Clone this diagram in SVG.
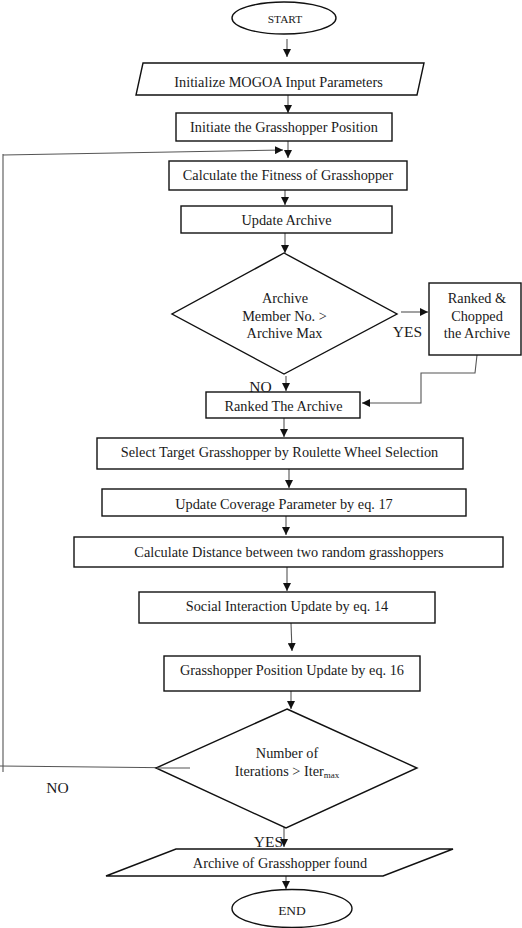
<svg xmlns="http://www.w3.org/2000/svg" width="522" height="928" viewBox="0 0 522 928">
<defs>
<style>
.n{fill:#fff;stroke:#111;stroke-width:1.4}
.t{font-family:"Liberation Serif","Times New Roman",serif;font-size:14.3px;fill:#1a1a1a;text-anchor:middle}
.c{fill:none;stroke:#555;stroke-width:1.1}
.a{marker-end:url(#ah)}
</style>
<marker id="ah" viewBox="0 0 10 10" refX="10" refY="5" markerWidth="8" markerHeight="8" markerUnits="userSpaceOnUse" orient="auto"><path d="M0,0 L10,5 L0,10 z" fill="#111"/></marker>
</defs>
<rect width="522" height="928" fill="#fff"/>
<g id="connectors">
<line class="c a" x1="287" y1="39" x2="287" y2="57"/>
<line class="c a" x1="288" y1="95" x2="288" y2="113"/>
<line class="c a" x1="288" y1="141" x2="288" y2="158"/>
<line class="c" x1="190" y1="768" x2="0" y2="766"/>
<line class="c" x1="3" y1="772" x2="3" y2="154"/>
<line class="c a" x1="3" y1="155" x2="283" y2="150"/>
<line class="c a" x1="285" y1="190" x2="285" y2="205"/>
<line class="c a" x1="285" y1="233" x2="285" y2="253"/>
<line class="c a" x1="284" y1="350" x2="284" y2="367"/>
<line class="c a" x1="286" y1="376" x2="286" y2="391"/>
<line class="c a" x1="401" y1="312" x2="428" y2="312"/>
<path class="c a" d="M477,355 L475,373 L421,373 L421,403 L362,403"/>
<line class="c a" x1="284" y1="418" x2="284" y2="437"/>
<line class="c a" x1="289" y1="469" x2="289" y2="488"/>
<line class="c a" x1="286" y1="516" x2="286" y2="535"/>
<line class="c a" x1="287" y1="567" x2="287" y2="591"/>
<line class="c a" x1="291" y1="623" x2="292" y2="651"/>
<line class="c a" x1="291" y1="691" x2="291" y2="709"/>
<line class="c a" x1="284" y1="823" x2="284" y2="847"/>
<line class="c a" x1="286" y1="876" x2="286" y2="889"/>
</g>
<g id="start">
<ellipse class="n" cx="284" cy="18" rx="52" ry="16"/>
<text class="t" x="285" y="23" style="font-size:11.4px">START</text>
</g>
<g id="init-params">
<polygon class="n" points="143,63 424,63 417,95 136,95"/>
<text class="t" x="278.5" y="87">Initialize MOGOA Input Parameters</text>
</g>
<g id="init-position">
<rect class="n" x="176" y="113" width="216" height="28"/>
<text class="t" x="284" y="132">Initiate the Grasshopper Position</text>
</g>
<g id="fitness">
<rect class="n" x="169" y="161" width="238" height="29"/>
<text class="t" x="288" y="180">Calculate the Fitness of Grasshopper</text>
</g>
<g id="update-archive">
<rect class="n" x="181" y="206" width="211" height="27"/>
<text class="t" x="286.5" y="225">Update Archive</text>
</g>
<g id="archive-check">
<polygon class="n" points="284,253 397,314 284,374 172,314"/>
<text class="t" x="285" y="303">Archive</text>
<text class="t" x="284.5" y="321">Member No. &gt;</text>
<text class="t" x="284.5" y="338">Archive Max</text>
</g>
<g id="chop">
<rect class="n" x="429" y="283" width="92" height="72"/>
<text class="t" x="477" y="303">Ranked &amp;</text>
<text class="t" x="477" y="321">Chopped</text>
<text class="t" x="477" y="338">the Archive</text>
</g>
<g id="labels1">
<text class="t" x="407.5" y="337" style="font-size:15.5px">YES</text>
<text class="t" x="260.5" y="392" style="font-size:15.5px">NO</text>
</g>
<g id="ranked">
<rect class="n" x="206" y="392" width="154" height="26"/>
<text class="t" x="283.5" y="411">Ranked The Archive</text>
</g>
<g id="select">
<rect class="n" x="97" y="438" width="366" height="31"/>
<text class="t" x="279.5" y="457">Select Target Grasshopper by Roulette Wheel Selection</text>
</g>
<g id="coverage">
<rect class="n" x="102" y="489" width="364" height="27"/>
<text class="t" x="284" y="509">Update Coverage Parameter by eq. 17</text>
</g>
<g id="distance">
<rect class="n" x="74" y="537" width="429" height="30"/>
<text class="t" x="289" y="557">Calculate Distance between two random grasshoppers</text>
</g>
<g id="social">
<rect class="n" x="139" y="592" width="296" height="31"/>
<text class="t" x="287" y="611">Social Interaction Update by eq. 14</text>
</g>
<g id="position-update">
<rect class="n" x="164" y="656" width="256" height="35"/>
<text class="t" x="292" y="675">Grasshopper Position Update by eq. 16</text>
</g>
<g id="iter-check">
<polygon class="n" points="287,709 417,768 286,828 156,768"/>
<text class="t" x="287" y="758">Number of</text>
<text class="t" x="287" y="776">Iterations &gt; Iter<tspan style="font-size:9px" dy="2">max</tspan></text>
</g>
<line class="c" x1="157" y1="768" x2="190" y2="768"/>
<g id="labels2">
<text class="t" x="57.5" y="793" style="font-size:15.5px">NO</text>
<text class="t" x="268.5" y="847" style="font-size:15.5px">YES</text>
</g>
<g id="archive-found">
<polygon class="n" points="176,849 453,849 383,876 106,876"/>
<text class="t" x="280" y="868">Archive of Grasshopper found</text>
</g>
<g id="end">
<ellipse class="n" cx="292" cy="908.5" rx="60" ry="19"/>
<text class="t" x="292" y="915" style="font-size:13.5px">END</text>
</g>
</svg>
